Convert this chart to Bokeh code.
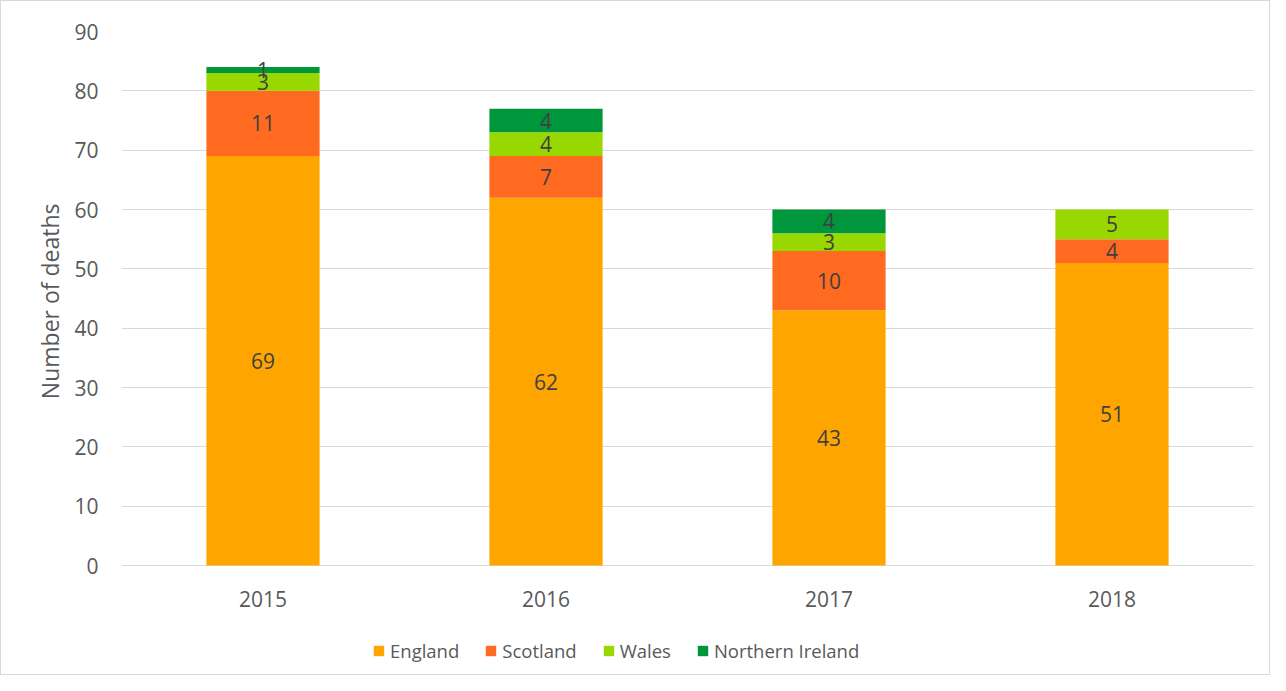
from bokeh.plotting import figure
from bokeh.models import ColumnDataSource, Legend, LegendItem, FactorRange, Range1d, FixedTicker, Title
from bokeh.core.properties import value
from bokeh.embed import file_html
from bokeh.resources import INLINE

years = ["2015", "2016", "2017", "2018"]
countries = ["England", "Scotland", "Wales", "Northern Ireland"]
england = [69, 62, 43, 51]
scotland = [11, 7, 10, 4]
wales = [3, 4, 3, 5]
northern_ireland = [1, 4, 4, 0]
colors = ["#FFA500", "#FF6A21", "#99D700", "#00963C"]
y_ticks = [0, 10, 20, 30, 40, 50, 60, 70, 80, 90]
y_title = "Number of deaths"

FONT = "Open Sans"
series = [england, scotland, wales, northern_ireland]

data = {"year": years}
for name, vals in zip(countries, series):
    data[name] = vals
source = ColumnDataSource(data)

# frame extends below zero to hold the category labels and legend
Y_MAX = 90
y_bottom = -Y_MAX * 110 / 534

p = figure(x_range=FactorRange(*years, range_padding=0), y_range=Range1d(y_bottom, Y_MAX),
           width=1270, height=675, output_backend="svg", toolbar_location=None,
           min_border_left=120, min_border_right=18, min_border_top=30, min_border_bottom=1)
p.styles = {"border": "1px solid #D9D9D9", "box-sizing": "border-box"}

rs = p.vbar_stack(countries, x="year", width=0.4, color=colors, line_color=None, source=source)

# labels at segment centres
lx, ly, lt = [], [], []
for i, yr in enumerate(years):
    base = 0
    for vals in series:
        v = vals[i]
        if v > 0:
            lx.append(yr)
            ly.append(base + v / 2)
            lt.append(str(v))
        base += v
lsrc = ColumnDataSource(dict(x=lx, y=ly, t=lt))
p.text(x="x", y="y", text="t", source=lsrc, text_align="center", text_baseline="middle",
       text_font=value(FONT), text_font_size="21px", text_color="#404040")

# category labels under the zero line
csrc = ColumnDataSource(dict(x=years, y=[0] * len(years), t=years))
p.text(x="x", y="y", text="t", source=csrc, text_align="center", text_baseline="middle",
       y_offset=33, text_font=value(FONT), text_font_size="21px", text_color="#595959")

p.outline_line_color = None
p.xgrid.grid_line_color = None
p.ygrid.grid_line_color = "#D9D9D9"
p.ygrid.grid_line_width = 1
p.xaxis.visible = False
p.yaxis.ticker = FixedTicker(ticks=y_ticks)
p.yaxis.axis_line_color = None
p.yaxis.major_tick_line_color = None
p.yaxis.minor_tick_line_color = None
p.yaxis.major_label_standoff = 17
p.yaxis.major_label_text_font = FONT
p.yaxis.major_label_text_font_size = "21px"
p.yaxis.major_label_text_color = "#595959"

# y-axis title, placed along the 0-90 part of the frame
p.add_layout(Title(text=y_title, align="right", offset=172, standoff=12,
                   text_font=FONT, text_font_style="normal", text_font_size="23px",
                   text_color="#595959"), "left")

legend = Legend(items=[LegendItem(label=c, renderers=[r]) for c, r in zip(countries, rs)],
                orientation="horizontal", location=(251, 12),
                label_text_font=FONT, label_text_font_size="18.5px", label_text_color="#595959",
                glyph_width=13, glyph_height=13, label_standoff=5, spacing=25,
                border_line_color=None, background_fill_alpha=0, padding=0, margin=0)
p.add_layout(legend, "center")

open("out.html", "w").write(file_html(p, INLINE))
